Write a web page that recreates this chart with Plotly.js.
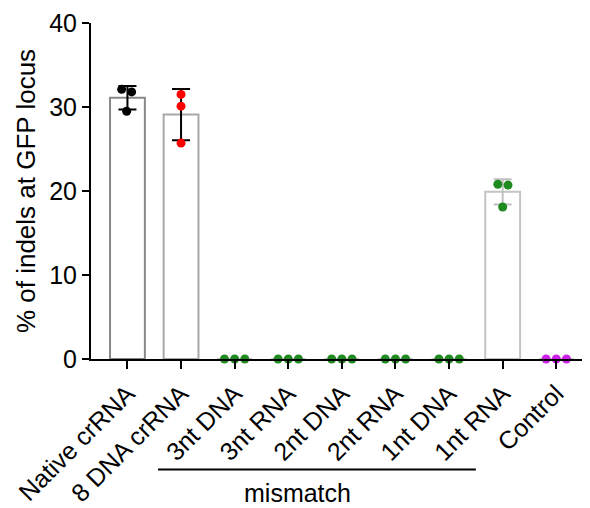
<!DOCTYPE html>
<html>
<head>
<meta charset="utf-8">
<script src="https://cdn.plot.ly/plotly-3.0.1.min.js"></script>
<style>html,body{margin:0;padding:0;background:#fff;}#chart{width:590px;height:508px;}</style>
</head>
<body>
<div id="chart"></div>
<script>
// ---- data ----
const categories = ["Native crRNA", "8 DNA crRNA", "3nt DNA", "3nt RNA", "2nt DNA", "2nt RNA", "1nt DNA", "1nt RNA", "Control"];
const means = [31.1, 29.1, 0, 0, 0, 0, 0, 19.9, 0];
const sds = [1.4, 3.05, 0, 0, 0, 0, 0, 1.5, 0];
const rep1 = [32.1, 31.5, 0, 0, 0, 0, 0, 20.8, 0];
const rep2 = [31.8, 30.1, 0, 0, 0, 0, 0, 20.7, 0];
const rep3 = [29.5, 25.7, 0, 0, 0, 0, 0, 18.1, 0];
const jitter1 = [-0.108, 0, -0.19, -0.19, -0.19, -0.19, -0.19, -0.09, -0.19];
const jitter2 = [0.078, 0, 0.19, 0.19, 0.19, 0.19, 0.19, 0.1, 0.19];
const jitter3 = [-0.015, 0, 0, 0, 0, 0, 0, 0, 0];
const dotColors = ["#000000", "#ff0000", "#1f8a1f", "#1f8a1f", "#1f8a1f", "#1f8a1f", "#1f8a1f", "#1f8a1f", "#cc22e8"];
const barLineColors = ["#888888", "#a8a8a8", "#c4c4c4", "#c4c4c4", "#c4c4c4", "#c4c4c4", "#c4c4c4", "#c4c4c4", "#c4c4c4"];
const errColors = ["#000000", "#000000", "#c0c0c0", "#c0c0c0", "#c0c0c0", "#c0c0c0", "#c0c0c0", "#c0c0c0", "#c0c0c0"];

const idx = categories.map((_, i) => i);
const FONT = "Liberation Sans, Arial, Helvetica, sans-serif";

const traces = [];
traces.push({
  type: "bar",
  x: idx,
  y: means,
  width: 0.65,
  marker: {color: "rgba(255,255,255,1)", line: {color: barLineColors, width: 2}},
  hoverinfo: "skip",
  showlegend: false
});
const errGroups = {};
idx.forEach(i => {
  if (sds[i] > 0) {
    (errGroups[errColors[i]] = errGroups[errColors[i]] || []).push(i);
  }
});
Object.keys(errGroups).forEach(c => {
  const ii = errGroups[c];
  traces.push({
    type: "scatter", mode: "markers",
    x: ii, y: ii.map(i => means[i]),
    marker: {size: 1, opacity: 0},
    error_y: {type: "data", array: ii.map(i => sds[i]), symmetric: true, color: c, thickness: 2, width: 9},
    hoverinfo: "skip", showlegend: false
  });
});
const px = [], py = [], pc = [];
[[rep1, jitter1], [rep2, jitter2], [rep3, jitter3]].forEach(([vals, jit]) => {
  idx.forEach(i => { px.push(i + jit[i]); py.push(vals[i]); pc.push(dotColors[i]); });
});
traces.push({
  type: "scatter", mode: "markers",
  x: px, y: py,
  marker: {size: 9, color: pc, line: {width: 0}},
  cliponaxis: false,
  hoverinfo: "skip", showlegend: false
});

const layout = {
  width: 590, height: 508,
  margin: {l: 91, r: 8, t: 23, b: 149},
  paper_bgcolor: "#ffffff", plot_bgcolor: "#ffffff",
  font: {family: FONT, color: "#000"},
  showlegend: false,
  xaxis: {
    range: [-0.68, 8.48],
    tickmode: "array", tickvals: idx, ticktext: categories,
    tickangle: -45,
    tickfont: {size: 25, family: FONT},
    showline: true, linecolor: "#000", linewidth: 2,
    ticks: "outside", ticklen: 8, tickwidth: 2, tickcolor: "#000",
    showgrid: false, zeroline: false, fixedrange: true
  },
  yaxis: {
    range: [0, 40],
    tickvals: [0, 10, 20, 30, 40],
    tickfont: {size: 25, family: FONT},
    showline: true, linecolor: "#000", linewidth: 2,
    ticks: "outside", ticklen: 7, tickwidth: 2, tickcolor: "#000",
    showgrid: false, zeroline: false,
    title: {text: "% of indels at GFP locus", font: {size: 26, family: FONT}, standoff: 6}
  },
  shapes: [{
    type: "line", xref: "x", yref: "paper",
    x0: 0.57, x1: 6.5, y0: -0.329, y1: -0.329,
    line: {color: "#000", width: 2}
  }],
  annotations: [{
    text: "mismatch", xref: "x", yref: "paper",
    x: 3.18, y: -0.40, showarrow: false,
    font: {size: 25, family: FONT, color: "#000"},
    xanchor: "center", yanchor: "middle"
  }]
};

Plotly.newPlot("chart", traces, layout, {displayModeBar: false, staticPlot: true});
</script>
</body>
</html>
